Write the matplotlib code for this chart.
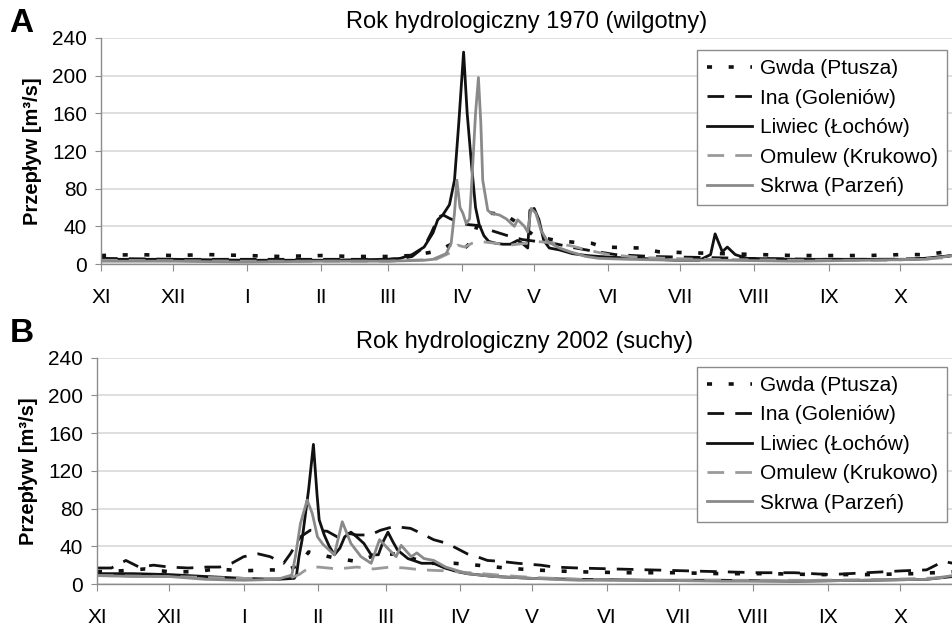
import matplotlib

matplotlib.use("Agg")
import matplotlib.pyplot as plt

plt.rcParams["font.family"] = ["Liberation Sans", "DejaVu Sans"]

# Month starts of the hydrological year (days counted from 1 November)
MONTH_DAYS = [0, 30, 61, 92, 120, 151, 181, 212, 242, 273, 304, 334]
MONTH_LABELS = ["XI", "XII", "I", "II", "III", "IV", "V", "VI", "VII", "VIII", "IX", "X"]

SERIES_NAMES = [
    "Gwda (Ptusza)",
    "Ina (Goleniów)",
    "Liwiec (Łochów)",
    "Omulew (Krukowo)",
    "Skrwa (Parzeń)",
]

# --- 1970 (wet year), daily flow [m3/s] at selected days ---
GWDA_1970_DAY = [0, 15, 30, 45, 61, 75, 92, 105, 120, 130, 139, 144, 148, 152, 155,
                 157, 163, 169, 175, 181, 190, 198, 205, 210, 225, 233, 245, 260,
                 275, 290, 305, 320, 335, 345, 356]
GWDA_1970_Q = [9, 10, 9, 10, 9, 8, 9, 8, 8, 9, 13, 18, 23, 17, 24,
               40, 54, 52, 42, 30, 25, 23, 22, 18, 17, 13, 12, 11,
               10, 9, 9, 9, 10, 10, 14]

INA_1970_DAY = [0, 30, 61, 92, 120, 126, 130, 135, 138, 141, 143, 146, 150, 153,
                157, 160, 165, 170, 176, 182, 189, 196, 205, 215, 230, 250, 270,
                300, 330, 345, 356]
INA_1970_Q = [6, 5, 5, 5, 5, 6, 8, 18, 33, 50, 52, 48, 44, 42,
              41, 38, 34, 30, 26, 24, 22, 18, 14, 10, 8, 7, 6,
              5, 5, 6, 9]

LIWIEC_1970_DAY = [0, 30, 61, 92, 120, 125, 130, 135, 138.7, 140.7, 142.8, 145.6,
                   147.7, 149.5, 151.5, 153, 155, 156.5, 158, 160, 162, 165, 168,
                   171, 174, 176, 178.3, 179.2, 181, 183, 185, 187.3, 191.5, 197,
                   203, 208, 215, 225, 240, 250, 254.7, 256.6, 258.5, 259.6,
                   261.7, 265, 270, 290, 320, 340, 356]
LIWIEC_1970_Q = [5, 5, 4, 4, 5, 6, 10, 18, 33, 47, 52, 63,
                 89, 150, 225, 160, 100, 60, 42, 30, 24, 22, 21,
                 21, 25, 22, 17, 57, 59, 47, 25, 17, 15, 11,
                 9, 8, 7, 6, 4, 4, 10, 32, 20, 13,
                 18, 10, 6, 5, 5, 5, 9]

OMULEW_1970_DAY = [0, 60, 120, 140, 146, 149, 152, 155, 158, 165, 170.6, 177.5,
                   182, 190, 197, 203, 212, 225, 250, 290, 330, 356]
OMULEW_1970_Q = [4, 3, 3, 5, 12, 20, 18, 22, 24, 22, 20, 22,
                 24, 22, 19, 15, 10, 7, 5, 4, 4, 7]

SKRWA_1970_DAY = [0, 30, 60, 92, 120, 135, 138.7, 144.2, 146.3, 147.7, 148.7, 150,
                  151.2, 152.6, 154, 155, 156.5, 157.7, 158.7, 159.5, 161.6, 163,
                  166.5, 169.3, 172.7, 174.1, 176.9, 178.3, 179.7, 181.7, 183.8,
                  186.6, 191.5, 196, 202.6, 208, 220, 240, 260, 290, 320, 345, 356]
SKRWA_1970_Q = [3, 3, 2, 3, 3, 4, 5, 11, 22, 54, 89, 60,
                54, 43, 48, 90, 160, 198, 150, 89, 57, 54,
                52, 48, 40, 47, 40, 34, 59, 54, 36,
                24, 17, 13, 8, 6, 5, 4, 4, 3, 4, 5, 9]

# --- 2002 (dry year) ---
GWDA_2002_DAY = [0, 10, 20, 30, 40, 50, 60, 72.8, 78, 84, 88, 93, 100, 108,
                 116.5, 125, 130, 138, 148.5, 158, 170, 181, 200, 220, 240, 260,
                 280, 300, 320, 340, 356]
GWDA_2002_Q = [13, 14, 16, 13, 13, 16, 14, 15, 14, 20, 34, 31, 27, 24,
               31, 32, 28, 22, 22, 20, 17, 15, 13, 12, 12, 11,
               11, 10, 10, 11, 13]

INA_2002_DAY = [0, 6, 12, 17.5, 23.5, 30, 38, 45.7, 51, 56, 61, 67, 72, 77.6,
                80.4, 84.6, 88.7, 95.7, 99.9, 104, 108, 113.6, 117.9, 123.5,
                130.4, 134.6, 140, 145.7, 154, 158, 162.4, 168, 175, 184.6,
                190, 200, 215, 230, 245, 260, 275, 290, 305, 320, 335, 345,
                352, 356]
INA_2002_Q = [17, 17, 25, 18, 20, 18, 17, 18, 18, 22, 29, 32, 29, 22,
              32, 50, 57, 56, 50, 54, 52, 52, 57, 61,
              59, 54, 47, 43, 32, 29, 25, 24, 22, 20,
              18, 17, 16, 15, 14, 13, 12, 12, 10, 12, 14, 15,
              24, 22]

LIWIEC_2002_DAY = [0, 15, 30, 45, 61, 75, 82, 83, 84, 85.3, 88, 90, 91.5, 92.4,
                   94.5, 96.6, 98.7, 101, 103, 105.6, 108, 111, 114, 117, 119,
                   121, 123, 125, 129.3, 135, 140, 144.6, 150, 154, 165, 181,
                   200, 230, 260, 290, 320, 345, 356]
LIWIEC_2002_Q = [11, 11, 10, 8, 6, 5, 6, 10, 29, 47, 100, 148, 95, 68,
                 52, 40, 31, 38, 50, 55, 50, 43, 31, 31, 45,
                 55, 45, 36, 27, 22, 22, 17, 13, 11, 8, 6,
                 5, 4, 4, 3, 4, 5, 8]

OMULEW_2002_DAY = [0, 30, 61, 80, 84, 88, 92, 100, 108, 115, 122, 128, 135, 145,
                   155, 170, 181, 200, 230, 260, 300, 330, 356]
OMULEW_2002_Q = [9, 8, 6, 6, 10, 17, 18, 16, 18, 16, 18, 17, 15, 14,
                 12, 9, 7, 5, 4, 4, 4, 5, 7]

SKRWA_2002_DAY = [0, 15, 30, 45, 61, 75, 81, 82.5, 84.6, 87.4, 89.5, 91.7, 94,
                  98.7, 102, 105.6, 109.8, 114, 117.5, 121.6, 124.4, 126.5,
                  130.7, 133, 136, 140, 145, 154, 165, 181, 200, 230, 260, 290,
                  320, 345, 356]
SKRWA_2002_Q = [9, 8, 8, 5, 4, 5, 9.5, 29, 64, 89, 75, 50, 42,
                31, 66, 43, 29, 22, 47, 36, 29, 41,
                29, 33, 27, 25, 18, 11, 8, 6, 4, 4, 3, 3,
                4, 5, 9]

BLACK = "#111111"
GREY = "#8a8a8a"
LINE_STYLES = [
    dict(color=BLACK, lw=2.6, linestyle=(0, (1.4, 4.6)), dash_capstyle="butt"),
    dict(color=BLACK, lw=2.0, linestyle=(0, (6, 4))),
    dict(color=BLACK, lw=2.0, linestyle="-"),
    dict(color="#9a9a9a", lw=2.0, linestyle=(0, (6, 4))),
    dict(color=GREY, lw=2.0, linestyle="-"),
]


def draw_panel(ax, series, title, legend_top):
    for name, (days, flow), style in zip(SERIES_NAMES, series, LINE_STYLES):
        ax.plot(days, flow, label=name, **style)

    ax.set_xlim(0, 356)
    ax.set_ylim(0, 240)
    ax.set_yticks(range(0, 241, 40))
    ax.set_xticks(MONTH_DAYS)
    ax.set_xticklabels(MONTH_LABELS)
    ax.grid(axis="y", color="#d9d9d9", lw=1.2)
    ax.set_axisbelow(True)

    for side in ("top", "right"):
        ax.spines[side].set_visible(False)
    for side in ("left", "bottom"):
        ax.spines[side].set_color("#8c8c8c")
        ax.spines[side].set_linewidth(1.0)

    ax.tick_params(axis="y", length=4, color="#8c8c8c", labelsize=15, pad=6)
    ax.tick_params(axis="x", length=5, color="#8c8c8c", labelsize=15, pad=12)
    ax.set_ylabel("Przepływ [m³/s]", fontsize=14.5, fontweight="bold", labelpad=7)
    ax.set_title(title, fontsize=17, pad=7)

    leg = ax.legend(
        loc="upper right",
        bbox_to_anchor=(0.993, legend_top),
        borderaxespad=0,
        fontsize=15,
        handlelength=2.2,
        handletextpad=0.35,
        labelspacing=0.5,
        borderpad=0.45,
        fancybox=False,
        framealpha=1,
        edgecolor="#8c8c8c",
    )
    leg.get_frame().set_linewidth(1.0)


fig = plt.figure(figsize=(9.53, 6.28), dpi=100)
ax_top = fig.add_axes([0.106, 0.5796, 0.894, 0.3599])
ax_bottom = fig.add_axes([0.1018, 0.070, 0.8982, 0.3606])

draw_panel(
    ax_top,
    [
        (GWDA_1970_DAY, GWDA_1970_Q),
        (INA_1970_DAY, INA_1970_Q),
        (LIWIEC_1970_DAY, LIWIEC_1970_Q),
        (OMULEW_1970_DAY, OMULEW_1970_Q),
        (SKRWA_1970_DAY, SKRWA_1970_Q),
    ],
    "Rok hydrologiczny 1970 (wilgotny)",
    legend_top=0.947,
)
draw_panel(
    ax_bottom,
    [
        (GWDA_2002_DAY, GWDA_2002_Q),
        (INA_2002_DAY, INA_2002_Q),
        (LIWIEC_2002_DAY, LIWIEC_2002_Q),
        (OMULEW_2002_DAY, OMULEW_2002_Q),
        (SKRWA_2002_DAY, SKRWA_2002_Q),
    ],
    "Rok hydrologiczny 2002 (suchy)",
    legend_top=0.96,
)

fig.text(0.01, 0.988, "A", fontsize=24, fontweight="bold", va="top")
fig.text(0.01, 0.493, "B", fontsize=24, fontweight="bold", va="top")

fig.savefig("out.png", dpi=100)
plt.close(fig)
